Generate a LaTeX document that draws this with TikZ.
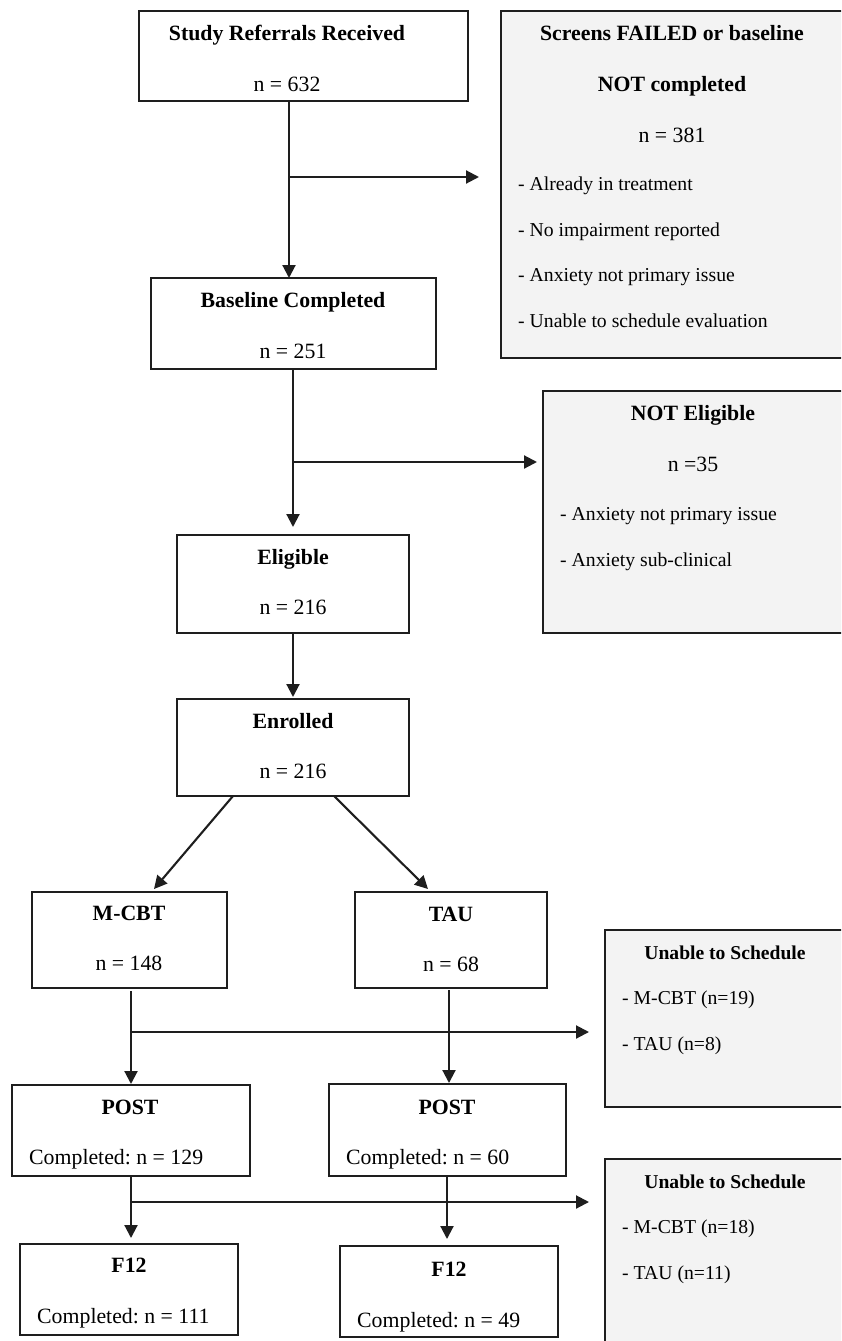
\documentclass[tikz,border=0pt]{standalone}
\usepackage{fontspec}
\setmainfont{Liberation Serif}
\frenchspacing
\usetikzlibrary{arrows.meta,fit}
\definecolor{linec}{RGB}{30,30,30}
\definecolor{grayf}{RGB}{243,243,243}
\tikzset{
  box/.style={draw=linec, line width=1.7pt, fill=white, inner sep=0pt, outer sep=0pt},
  gbox/.style={box, fill=grayf},
  ttl/.style={font=\bfseries\fontsize{21.8}{24}\selectfont, anchor=base, inner sep=0pt},
  txt/.style={font=\fontsize{21.8}{24}\selectfont, anchor=base, inner sep=0pt},
  txtw/.style={font=\fontsize{21.8}{24}\selectfont, anchor=base west, inner sep=0pt},
  sttl/.style={font=\bfseries\fontsize{19.6}{22}\selectfont, anchor=base, inner sep=0pt},
  item/.style={font=\fontsize{19.7}{22}\selectfont, anchor=base west, inner sep=0pt},
  arr/.style={draw=linec, line width=2.1pt, -{Triangle[length=13pt,width=13pt]}},
}
\begin{document}
\begin{tikzpicture}[x=1pt,y=-1pt]
\useasboundingbox (0,0) rectangle (841,1341);
\clip (0,0) rectangle (841,1341);
% boxes
\node[box,  fit={(139,11) (468,101)}] (ref) {};
\node[gbox, fit={(501,11) (850,358)}] (fail) {};
\node[box,  fit={(151,278) (436,369)}] (base) {};
\node[gbox, fit={(543,391) (850,633)}] (notel) {};
\node[box,  fit={(177,535) (409,633)}] (elig) {};
\node[box,  fit={(177,699) (409,796)}] (enr) {};
\node[box,  fit={(32,892) (227,988)}] (mcbt) {};
\node[box,  fit={(355,892) (547,988)}] (tau) {};
\node[gbox, fit={(605,930) (850,1107)}] (un1) {};
\node[box,  fit={(12,1085) (250,1176)}] (postL) {};
\node[box,  fit={(329,1084) (566,1176)}] (postR) {};
\node[gbox, fit={(605,1159) (850,1360)}] (un2) {};
\node[box,  fit={(20,1244) (238,1335)}] (f12L) {};
\node[box,  fit={(340,1246) (558,1337)}] (f12R) {};
% texts
\node[ttl] (t1) at (287,40) {Study Referrals Received};
\node[txt] (t2) at (287,91) {n = 632};
\node[ttl] (t3) at (672,40) {Screens FAILED or baseline};
\node[ttl] (t4) at (672,91) {NOT completed};
\node[txt] (t5) at (672,142) {n = 381};
\node[item] (t6) at (518,190) {- Already in treatment};
\node[item] (t7) at (518,236) {- No impairment reported};
\node[item] (t8) at (518,281) {- Anxiety not primary issue};
\node[item] (t9) at (518,327) {- Unable to schedule evaluation};
\node[ttl] (t10) at (293,307) {Baseline Completed};
\node[txt] (t11) at (293,358) {n = 251};
\node[ttl] (t12) at (693,420) {NOT Eligible};
\node[txt] (t13) at (693,471) {n =35};
\node[item] (t14) at (560,520) {- Anxiety not primary issue};
\node[item] (t15) at (560,566) {- Anxiety sub-clinical};
\node[ttl] (t16) at (293,564) {Eligible};
\node[txt] (t17) at (293,614) {n = 216};
\node[ttl] (t18) at (293,728) {Enrolled};
\node[txt] (t19) at (293,778) {n = 216};
\node[ttl] (t20) at (129,920) {M-CBT};
\node[txt] (t21) at (129,970) {n = 148};
\node[ttl] (t22) at (451,921) {TAU};
\node[txt] (t23) at (451,971) {n = 68};
\node[sttl] (t24) at (725,959) {Unable to Schedule};
\node[item] (t25) at (622,1004) {- M-CBT (n=19)};
\node[item] (t26) at (622,1050) {- TAU (n=8)};
\node[ttl] (t27) at (130,1114) {POST};
\node[txtw] (t28) at (29,1164) {Completed: n = 129};
\node[ttl] (t29) at (447,1114) {POST};
\node[txtw] (t30) at (346,1164) {Completed: n = 60};
\node[sttl] (t31) at (725,1188) {Unable to Schedule};
\node[item] (t32) at (622,1233) {- M-CBT (n=18)};
\node[item] (t33) at (622,1279) {- TAU (n=11)};
\node[ttl] (t34) at (129,1272) {F12};
\node[txtw] (t35) at (37,1323) {Completed: n = 111};
\node[ttl] (t36) at (449,1276) {F12};
\node[txtw] (t37) at (357,1327) {Completed: n = 49};
% helper coordinates
\coordinate (c1) at (289,0);
\coordinate (c2) at (293,0);
\coordinate (c3) at (131,0);
\coordinate (c4) at (449,0);
\coordinate (c5) at (447,0);
\coordinate (j1) at (289,177);
\coordinate (j2) at (293,462);
\coordinate (j3) at (131,1032);
\coordinate (j4) at (131,1202);
% connectors
\draw[arr] (ref.south -| c1) -- (base.north -| c1);
\draw[arr, shorten >=22pt] (j1) -- (j1 -| fail.west);
\draw[arr, shorten >=8pt] (base.south -| c2) -- (elig.north -| c2);
\draw[arr, shorten >=6pt] (j2) -- (j2 -| notel.west);
\draw[arr, shorten >=2pt] (elig.south) -- (enr.north);
\draw[arr] ([xshift=56pt]enr.south west) -- ([xshift=122pt,yshift=3pt]mcbt.north west);
\draw[arr] ([xshift=157pt]enr.south west) -- ([xshift=73pt,yshift=3pt]tau.north west);
\draw[arr, shorten <=3pt, shorten >=1pt] (mcbt.south -| c3) -- (postL.north -| c3);
\draw[arr, shorten >=16pt] (j3) -- (j3 -| un1.west);
\draw[arr, shorten <=2pt, shorten >=1pt] (tau.south -| c4) -- (postR.north -| c4);
\draw[arr, shorten >=6pt] (postL.south -| c3) -- (f12L.north -| c3);
\draw[arr, shorten >=16pt] (j4) -- (j4 -| un2.west);
\draw[arr, shorten >=7pt] (postR.south -| c5) -- (f12R.north -| c5);
\end{tikzpicture}
\end{document}
